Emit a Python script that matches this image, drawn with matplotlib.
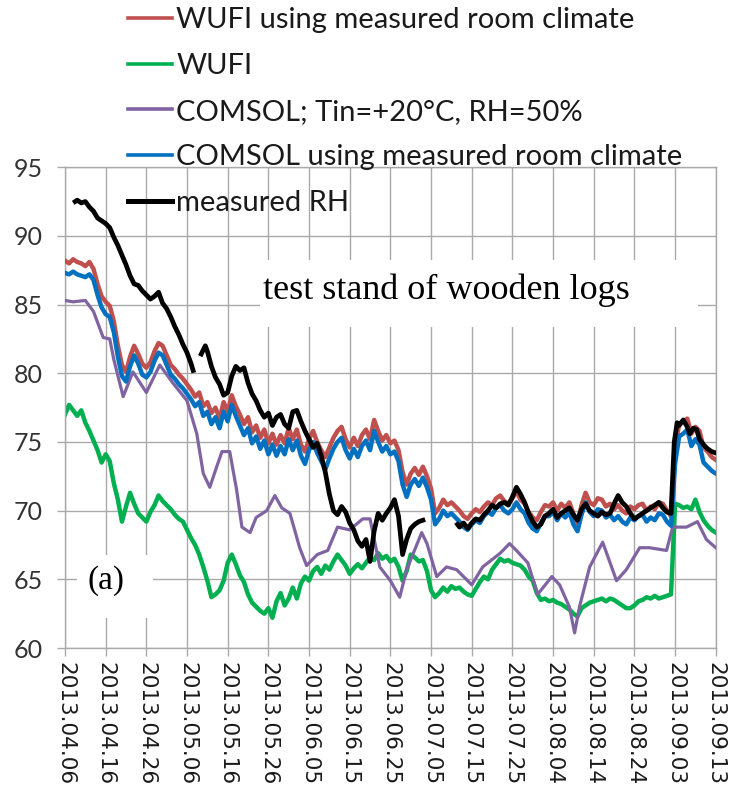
import numpy as np
import matplotlib.pyplot as plt
import matplotlib.dates as mdates
from matplotlib.patches import Rectangle

# x axis tick labels (every 10 days)
tick_labels = ["2013.04.06", "2013.04.16", "2013.04.26", "2013.05.06", "2013.05.16",
               "2013.05.26", "2013.06.05", "2013.06.15", "2013.06.25", "2013.07.05",
               "2013.07.15", "2013.07.25", "2013.08.04", "2013.08.14", "2013.08.24",
               "2013.09.03", "2013.09.13"]
y_ticks = [60, 65, 70, 75, 80, 85, 90, 95]

# daily values, day 0 = 2013.04.06
days = list(range(161))

wufi_room = [88.2, 88.0, 88.3, 88.1, 88.0, 87.8, 88.1, 87.6, 86.5, 85.6,
             85.2, 84.9, 83.8, 82.0, 80.6, 80.1, 81.2, 82.0, 81.4, 80.7,
             80.4, 80.8, 81.6, 82.2, 82.0, 81.3, 80.6, 80.3, 79.9, 79.6,
             79.2, 78.8, 78.3, 78.6, 77.6, 77.9, 77.1, 77.5, 76.7, 77.9,
             77.2, 78.4, 77.6, 77.0, 76.3, 76.8, 75.7, 76.2, 75.3, 75.9,
             74.9, 75.6, 74.8, 75.5, 74.9, 76.0, 75.2, 75.9, 74.8, 74.3,
             75.2, 75.8, 75.0, 74.4, 73.9, 74.6, 75.3, 75.8, 76.1, 75.2,
             74.6, 75.3, 74.7, 75.5, 75.9, 75.2, 76.6, 75.8, 75.1, 75.5,
             74.9, 75.1, 74.4, 72.8, 71.9, 72.7, 73.1, 72.6, 73.2, 72.5,
             71.6, 69.8, 70.2, 70.8, 70.4, 70.6, 70.3, 70.0, 69.6, 69.4,
             69.8, 70.1, 69.9, 70.3, 70.6, 70.4, 70.9, 71.1, 70.7, 70.5,
             70.9, 71.4, 70.8, 70.5, 69.9, 69.5, 69.3, 69.9, 70.4, 70.3,
             70.6, 70.0, 70.5, 70.2, 70.6, 69.8, 69.1, 70.4, 71.3, 70.6,
             70.4, 70.9, 70.8, 70.3, 70.5, 70.1, 70.4, 70.0, 69.8, 70.3,
             70.1, 70.4, 70.5, 70.0, 70.3, 70.1, 70.6, 70.5, 70.0, 69.6,
             74.5, 76.3, 76.5, 76.7, 75.6, 76.1, 75.8, 74.6, 74.3, 73.9,
             73.7]

comsol_room = [87.3, 87.2, 87.4, 87.2, 87.1, 87.0, 87.2, 86.8, 85.7, 84.8,
               84.3, 84.1, 83.0, 81.2, 79.8, 79.4, 80.5, 81.3, 80.7, 79.9,
               79.7, 80.1, 80.9, 81.5, 81.3, 80.6, 79.9, 79.6, 79.2, 78.9,
               78.5, 78.1, 77.6, 77.9, 76.9, 77.2, 76.3, 76.8, 76.0, 77.2,
               76.5, 77.7, 76.9, 76.2, 75.5, 76.0, 74.9, 75.4, 74.5, 75.1,
               74.1, 74.8, 74.0, 74.7, 74.1, 75.2, 74.4, 75.1, 74.0, 73.4,
               74.4, 75.0, 74.2, 73.6, 73.0, 73.8, 74.5, 75.0, 75.3, 74.4,
               73.8, 74.5, 73.9, 74.7, 75.1, 74.4, 75.8, 75.0, 74.3, 74.7,
               74.1, 74.3, 73.6, 71.9, 71.0, 71.9, 72.3, 71.8, 72.4, 71.7,
               70.8, 69.0, 69.4, 70.0, 69.6, 69.8, 69.5, 69.2, 68.8, 68.6,
               69.0, 69.3, 69.1, 69.6, 69.9, 69.7, 70.2, 70.4, 70.0, 69.8,
               70.1, 70.6, 70.1, 69.8, 69.1, 68.7, 68.5, 69.1, 69.6, 69.6,
               69.9, 69.3, 69.8, 69.5, 69.9, 69.0, 68.5, 69.7, 70.6, 69.9,
               69.6, 70.1, 70.0, 69.5, 69.7, 69.3, 69.6, 69.2, 69.0, 69.5,
               69.3, 69.6, 69.7, 69.2, 69.5, 69.3, 69.8, 69.7, 69.2, 68.9,
               73.4, 75.4, 75.6, 75.9, 74.7, 75.2, 74.8, 73.5, 73.2, 72.9,
               72.7]

wufi = [77.0, 77.7, 77.3, 76.9, 77.3, 76.4, 75.8, 75.1, 74.4, 73.5,
        74.1, 73.6, 72.0, 70.8, 69.2, 70.3, 71.3, 70.5, 69.8, 69.5,
        69.2, 69.9, 70.4, 71.1, 70.7, 70.4, 70.1, 69.7, 69.4, 69.2,
        68.6, 68.0, 67.5, 66.8, 65.9, 64.9, 63.7, 63.9, 64.2, 64.9,
        66.2, 66.8, 66.1, 65.3, 64.8, 63.9, 63.3, 63.0, 62.7, 62.5,
        62.9, 62.2, 63.4, 64.0, 63.1, 63.6, 64.4, 63.6, 64.7, 65.2,
        64.9, 65.6, 65.9, 65.4, 66.0, 65.7, 66.3, 66.8, 66.4, 66.0,
        65.4, 65.8, 66.1, 65.8, 66.2, 66.6, 66.4, 66.9, 66.5, 66.7,
        66.3, 66.5, 65.9, 64.9, 65.6, 66.8, 66.6, 66.3, 66.4, 65.6,
        64.2, 63.7, 64.0, 64.4, 64.1, 64.5, 64.3, 64.4, 64.1, 63.9,
        63.8, 64.3, 64.8, 65.2, 65.0, 65.7, 66.1, 66.5, 66.3, 66.4,
        66.2, 66.1, 66.0, 65.7, 65.2, 64.9, 64.0, 63.5, 63.6, 63.4,
        63.5, 63.3, 63.2, 63.0, 62.8, 62.5, 62.3, 62.9, 63.1, 63.3,
        63.4, 63.5, 63.6, 63.4, 63.6, 63.5, 63.3, 63.1, 62.9, 62.9,
        63.1, 63.4, 63.5, 63.7, 63.6, 63.8, 63.6, 63.7, 63.8, 63.9,
        70.5, 70.4, 70.2, 70.3, 70.1, 70.8, 69.9, 69.3, 68.9, 68.6,
        68.4]

# COMSOL with constant indoor climate (smooth curve)
comsol_days = [0, 2, 5, 7, 9.4, 11, 12, 14.3, 16.7, 20, 23.3, 26.5, 30, 32.4, 34,
               35.6, 37.3, 38.6, 40.5, 42.2, 43.5, 45.5, 47, 49.6, 51.6, 53.3, 55.3,
               57.7, 59.4, 62, 64.6, 67, 70, 73.2, 75, 77.4, 80, 82.3, 84, 87.7, 89,
               91.4, 93.8, 96.3, 100, 102.7, 107, 109.3, 111, 113.8, 116.2, 119.7,
               121.6, 124, 125.3, 126.5, 129, 132.2, 135.6, 138, 141.3, 143.7, 147.9,
               149.4, 152.8, 155.5, 157.7, 160]
comsol_const = [85.3, 85.2, 85.3, 84.5, 82.6, 82.5, 81.0, 78.3, 80.1, 78.6, 80.6, 79.3,
                78.0, 75.6, 72.7, 71.7, 73.2, 74.3, 74.3, 71.5, 68.8, 68.4, 69.5, 70.0,
                71.1, 70.2, 69.8, 67.3, 66.0, 66.8, 67.1, 68.8, 68.6, 69.4, 69.4, 65.9,
                64.9, 63.7, 65.7, 68.4, 67.6, 65.2, 65.9, 65.7, 64.6, 65.9, 66.9, 67.6,
                67.1, 66.2, 63.9, 65.2, 64.6, 63.0, 61.1, 63.0, 65.9, 67.7, 64.9, 65.7,
                67.3, 67.3, 67.1, 68.8, 68.8, 69.2, 67.9, 67.3]

# measured RH (gaps = no data)
meas_days = [2.5, 3, 4, 5, 6, 7, 8, 9, 10, 11, 12, 13, 14, 15, 16, 17, 18, 19, 20, 21,
             22, 23, 24, 25, 26, 27, 28, 29, 30, 31, 31.5, 32.5,
             33.5, 34.5, 35, 36, 37, 38, 39, 40, 41, 42, 43, 44, 45, 46, 47, 48, 49, 50,
             51, 52, 53, 54, 55, 56, 57, 58, 59, 60, 61, 62, 63, 64, 65, 66, 67, 68, 69,
             70, 71, 72, 73, 74, 75, 76, 77, 78, 79, 80, 81, 82, 83, 84, 85, 86, 87, 88,
             92,
             96.5, 97, 98, 99, 100, 101, 102, 103, 104, 105, 106, 107, 108, 109, 110,
             111, 112, 113, 114, 115, 116, 117, 118, 119, 120, 121, 122, 123, 124, 125,
             126, 127, 128, 129, 130, 131, 132, 133, 134, 135, 136, 137, 138, 139, 140,
             141, 142, 143, 144, 145, 146, 147, 148, 149, 149.8, 150.5, 151, 152, 153,
             153.6, 154.5, 155.3, 156, 157, 158, 159, 160]
meas_rh = [92.5, 92.6, 92.4, 92.5, 92.1, 91.8, 91.3, 91.1, 90.9, 90.6, 89.9, 89.3, 88.6,
           87.9, 87.1, 86.5, 86.4, 86.0, 85.7, 85.4, 85.6, 85.9, 85.1, 84.7, 84.1, 83.4,
           82.8, 82.1, 81.5, 80.7, 80.2, np.nan,
           81.4, 82.0, 81.6, 80.5, 79.7, 79.2, 78.4, 78.6, 79.8, 80.5, 80.2, 80.4, 79.3,
           78.5, 78.0, 77.3, 76.8, 77.1, 76.2, 76.8, 77.0, 76.3, 76.0, 77.2, 77.3, 76.5,
           75.8, 75.2, 74.6, 74.9, 74.0, 72.8, 71.2, 70.0, 69.7, 70.3, 69.9, 69.1, 68.6,
           67.8, 67.4, 67.9, 66.3, 68.5, 69.8, 69.3, 69.8, 70.2, 70.8, 69.6, 66.8, 67.9,
           68.7, 69.0, 69.2, 69.3,
           np.nan,
           69.0, 68.8, 69.1, 68.7, 69.1, 69.4, 69.3, 69.7, 70.0, 70.4, 70.2, 70.5, 70.6,
           70.4, 71.0, 71.7, 71.2, 70.6, 69.8, 69.2, 68.8, 69.0, 69.6, 69.8, 70.1, 69.5,
           69.8, 70.0, 70.2, 69.7, 69.3, 70.1, 70.5, 70.0, 69.8, 69.6, 69.9, 69.7, 69.8,
           70.5, 71.1, 70.6, 70.3, 69.8, 69.4, 69.6, 69.8, 70.0, 70.2, 70.4, 70.6, 70.2,
           69.9, 69.8, 75.0, 76.4, 76.2, 76.6, 76.1, 75.6, 76.0, 75.9, 75.2, 74.8, 74.5,
           74.3, 74.2]

start = mdates.date2num(np.datetime64("2013-04-06"))
tick_pos = mdates.datestr2num([t.replace(".", "-") for t in tick_labels])

fig = plt.figure(figsize=(7.32, 8), dpi=100)
ax = fig.add_axes([0.0888, 0.19, 0.889, 0.601])

grid_c = "#a9a9a9"
ln_red, = ax.plot(start + np.array(days), wufi_room, color="#c0504d", lw=3.2, zorder=3)
ln_green, = ax.plot(start + np.array(days), wufi, color="#00b050", lw=3.2, zorder=2.5)
ln_purple, = ax.plot(start + np.array(comsol_days), comsol_const, color="#8064a2", lw=2.3, zorder=2.6)
ln_blue, = ax.plot(start + np.array(days), comsol_room, color="#0070c0", lw=3.2, zorder=3.2)
ln_black, = ax.plot(start + np.array(meas_days), meas_rh, color="black", lw=3.4, zorder=3.5)

ax.set_xlim(tick_pos[0], tick_pos[-1])
ax.set_ylim(60, 95)
ax.set_xticks(tick_pos)
ax.set_xticklabels(tick_labels, rotation=270, fontsize=15.5, family="DejaVu Sans",
                   color="#1a1a1a")
ax.set_yticks(y_ticks)
ax.set_yticklabels([str(v) for v in y_ticks], fontsize=18, family="Lato", color="#333333")
ax.tick_params(axis="both", direction="out", length=6, width=1, color=grid_c, pad=4)
ax.tick_params(axis="y", pad=10)
ax.grid(True, color=grid_c, lw=1)
ax.set_axisbelow(True)
for s in ax.spines.values():
    s.set_color(grid_c)
    s.set_linewidth(1)

# white label boxes covering the grid
ax.add_patch(Rectangle((0.30, 0.667), 0.672, 0.14, transform=ax.transAxes,
                       facecolor="white", edgecolor="none", zorder=1.5))
ax.text(0.305, 0.745, "test stand of wooden logs", transform=ax.transAxes,
        family="Liberation Serif", fontsize=26, va="center", ha="left", zorder=4)
ax.add_patch(Rectangle((0.018, 0.062), 0.117, 0.131, transform=ax.transAxes,
                       facecolor="white", edgecolor="none", zorder=1.5))
ax.text(0.034, 0.14, "(a)", transform=ax.transAxes,
        family="Liberation Serif", fontsize=24, va="center", ha="left", zorder=4)

handles = [ln_red, ln_green, ln_purple, ln_blue, ln_black]
labels = ["WUFI using measured room climate", "WUFI", "COMSOL; Tin=+20°C, RH=50%",
          "COMSOL using measured room climate", "measured RH"]
leg = fig.legend(handles, labels, loc="upper left", bbox_to_anchor=(128 / 732, 1 - 7 / 800),
                 frameon=False, prop={"family": "Lato", "size": 21}, handlelength=1.5,
                 handletextpad=0.15, labelspacing=0.68, borderpad=0, borderaxespad=0)
for t in leg.get_texts():
    t.set_color("#1a1a1a")
for h in leg.legend_handles:
    h.set_linewidth(2.6)
leg.legend_handles[-1].set_linewidth(3.6)

fig.savefig("out.png", dpi=100)
